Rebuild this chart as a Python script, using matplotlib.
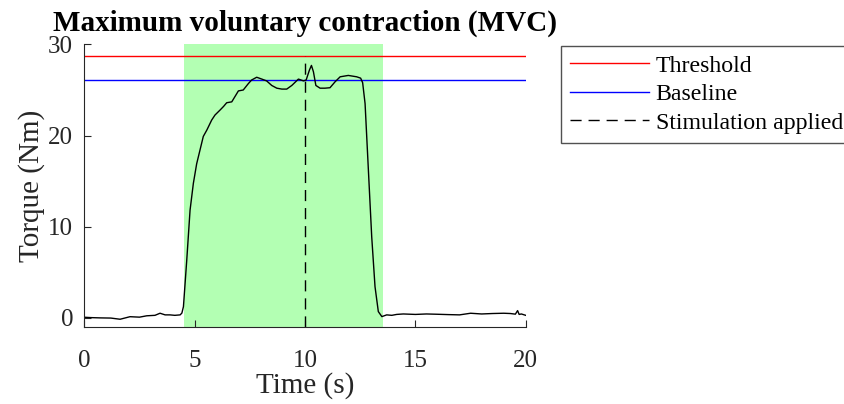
import matplotlib
matplotlib.use("Agg")
import matplotlib.pyplot as plt

# torque trace (s, Nm)
time_s = [0.0, 0.3, 0.71, 1.2, 1.62, 2.07, 2.5, 2.83, 3.2, 3.43, 3.66, 3.88, 4.1,
          4.34, 4.42, 4.49, 4.64, 4.79, 4.94, 5.09, 5.24, 5.39, 5.55, 5.77, 5.92,
          6.15, 6.31, 6.45, 6.68, 6.83, 6.98, 7.2, 7.43, 7.58, 7.81, 8.04, 8.26,
          8.49, 8.72, 8.95, 9.17, 9.4, 9.7, 9.93, 10.05, 10.2, 10.29, 10.38,
          10.49, 10.68, 10.9, 11.13, 11.36, 11.59, 11.96, 12.34, 12.52, 12.61,
          12.72, 12.87, 13.02, 13.17, 13.32, 13.48, 13.7, 13.93, 14.15, 14.45,
          15.0, 15.5, 15.97, 16.5, 17.0, 17.5, 18.0, 18.5, 19.0, 19.3, 19.53,
          19.63, 19.7, 19.8, 20.0]
torque = [0.04, 0.0, -0.03, -0.05, -0.18, 0.1, 0.05, 0.2, 0.25, 0.48, 0.3, 0.3, 0.25,
          0.3, 0.5, 1.2, 6.3, 11.8, 14.75, 16.9, 18.4, 19.9, 20.6, 21.7, 22.25,
          22.8, 23.2, 23.6, 23.7, 24.3, 24.9, 25.0, 25.7, 26.1, 26.4, 26.2, 26.0,
          25.5, 25.2, 25.1, 25.1, 25.5, 26.2, 26.0, 26.1, 27.2, 27.7, 27.0,
          25.5, 25.2, 25.2, 25.25, 25.9, 26.45, 26.6, 26.45, 26.3, 25.8,
          23.5, 16.2, 8.9, 3.4, 0.66, 0.11, 0.3, 0.25, 0.35, 0.4,
          0.35, 0.4, 0.37, 0.33, 0.3, 0.48, 0.4, 0.45, 0.48, 0.45, 0.38,
          0.77, 0.35, 0.4, 0.25]

threshold = 28.7
baseline = 26.1
stim_time = 10.0
window = (4.5, 13.55)

serif = ["Liberation Serif", "DejaVu Serif"]
plt.rcParams["font.family"] = serif
axis_grey = (0.15, 0.15, 0.15)

fig = plt.figure(figsize=(8.45, 4.04), dpi=100)
ax = fig.add_axes([0.0998, 0.1913, 0.5224, 0.6986])

ax.axvspan(window[0], window[1], color=(0.7, 1.0, 0.7), lw=0, zorder=0)
ax.plot([0, 20], [threshold, threshold], color="red", lw=1.0, label="Threshold")
ax.plot([0, 20], [baseline, baseline], color="blue", lw=1.0, label="Baseline")
ax.plot([stim_time, stim_time], [-1, threshold], color="black", lw=1.0,
        dashes=(8, 5), label="Stimulation applied")
ax.plot(time_s, torque, color="black", lw=1.0)

ax.set_xlim(0, 20)
ax.set_ylim(-1, 30)
ax.set_xticks([0, 5, 10, 15, 20])
ax.set_yticks([0, 10, 20, 30])
ax.spines["top"].set_visible(False)
ax.spines["right"].set_visible(False)
for s in ("left", "bottom"):
    ax.spines[s].set_color(axis_grey)
ax.tick_params(direction="in", length=5, color=axis_grey, labelcolor=axis_grey,
               labelsize=18)
ax.tick_params(axis="x", pad=17)
ax.tick_params(axis="y", pad=8)

ax.set_xlabel("Time (s)", fontsize=21, color=axis_grey, labelpad=0)
ax.set_ylabel("Torque (Nm)", fontsize=21, color=axis_grey, labelpad=2)
ax.set_title("Maximum voluntary contraction (MVC)", fontsize=21,
             fontweight="bold", pad=10)

leg = fig.legend(loc="upper left", bbox_to_anchor=(561 / 845, 1 - 46 / 404),
                 fontsize=17.2, frameon=True, fancybox=False, borderaxespad=0,
                 handlelength=3.3, handletextpad=0.28, labelspacing=0.28,
                 borderpad=0.38)
leg.get_frame().set_edgecolor(axis_grey)
leg.get_frame().set_linewidth(1.0)

fig.savefig("out.png", dpi=100)
